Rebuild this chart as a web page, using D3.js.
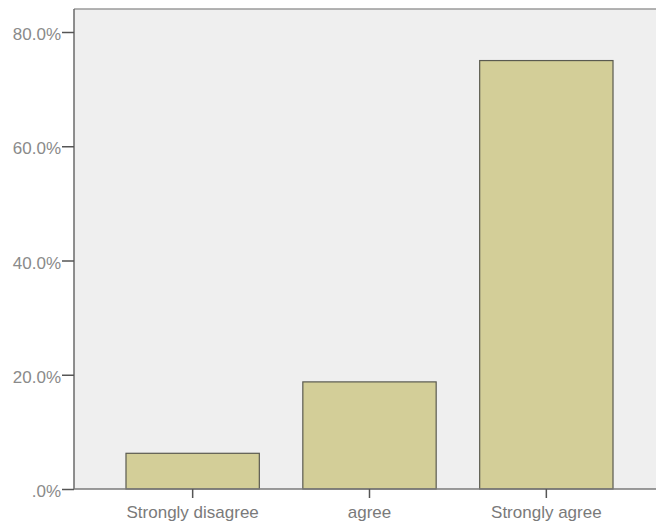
<!DOCTYPE html>
<html><head><meta charset="utf-8">
<script src="https://cdn.jsdelivr.net/npm/d3@7"></script>
<style>html,body{margin:0;padding:0;background:#fff;overflow:hidden}</style>
</head><body><svg id="c" width="656" height="528"></svg>
<script>
const categories = ["Strongly disagree", "agree", "Strongly agree"];
const percents = [6.25, 18.75, 75.0];
const yTicks = [0, 20, 40, 60, 80];
const yTickLabels = [".0%", "20.0%", "40.0%", "60.0%", "80.0%"];

const svg = d3.select("#c");
const mLeft = 74, mTop = 9, mBottom = 489, rightExt = 665;
const x = d3.scaleBand().domain(categories).range([mLeft, rightExt]).paddingInner(0.246).paddingOuter(0.294);
const y = d3.scaleLinear().domain([0, 80]).range([mBottom, 32]);

svg.append("rect").attr("x", mLeft).attr("y", mTop).attr("width", 656 - mLeft).attr("height", mBottom - mTop).attr("fill", "#efefef");

svg.selectAll("rect.bar").data(percents).join("rect").attr("class", "bar")
  .attr("x", (d, i) => x(categories[i]))
  .attr("y", d => y(d))
  .attr("width", x.bandwidth())
  .attr("height", d => y(0) - y(d))
  .attr("fill", "#d3ce98").attr("stroke", "#5a5a50").attr("stroke-width", 1.2);

// frame
svg.append("line").attr("x1", mLeft).attr("x2", 656).attr("y1", mTop).attr("y2", mTop).attr("stroke", "#9a9a9a").attr("stroke-width", 1.5);
svg.append("line").attr("x1", mLeft).attr("x2", mLeft).attr("y1", mTop).attr("y2", mBottom).attr("stroke", "#6a6a6a").attr("stroke-width", 1.5);
svg.append("line").attr("x1", mLeft).attr("x2", 656).attr("y1", mBottom).attr("y2", mBottom).attr("stroke", "#7a7a7a").attr("stroke-width", 1.5);

const yAxis = d3.axisLeft(y).tickValues(yTicks).tickFormat((d, i) => yTickLabels[i]).tickSize(12).tickPadding(1);
const gy = svg.append("g").attr("transform", `translate(${mLeft},0)`).call(yAxis);
gy.select(".domain").remove();
gy.selectAll(".tick line").attr("stroke", "#555").attr("stroke-width", 1.5);
gy.selectAll(".tick text").attr("fill", "#8a8a8a").attr("font-family", "Liberation Sans, Arial, sans-serif").attr("font-size", 17).attr("dy", "0.45em");

const xAxis = d3.axisBottom(x).tickSize(9).tickPadding(8);
const gx = svg.append("g").attr("transform", `translate(0,${mBottom})`).call(xAxis);
gx.select(".domain").remove();
gx.selectAll(".tick line").attr("stroke", "#555").attr("stroke-width", 1.5);
gx.selectAll(".tick text").attr("fill", "#7a7a7a").attr("font-family", "Liberation Sans, Arial, sans-serif").attr("font-size", 17).attr("dy", "0.71em");
</script></body></html>
